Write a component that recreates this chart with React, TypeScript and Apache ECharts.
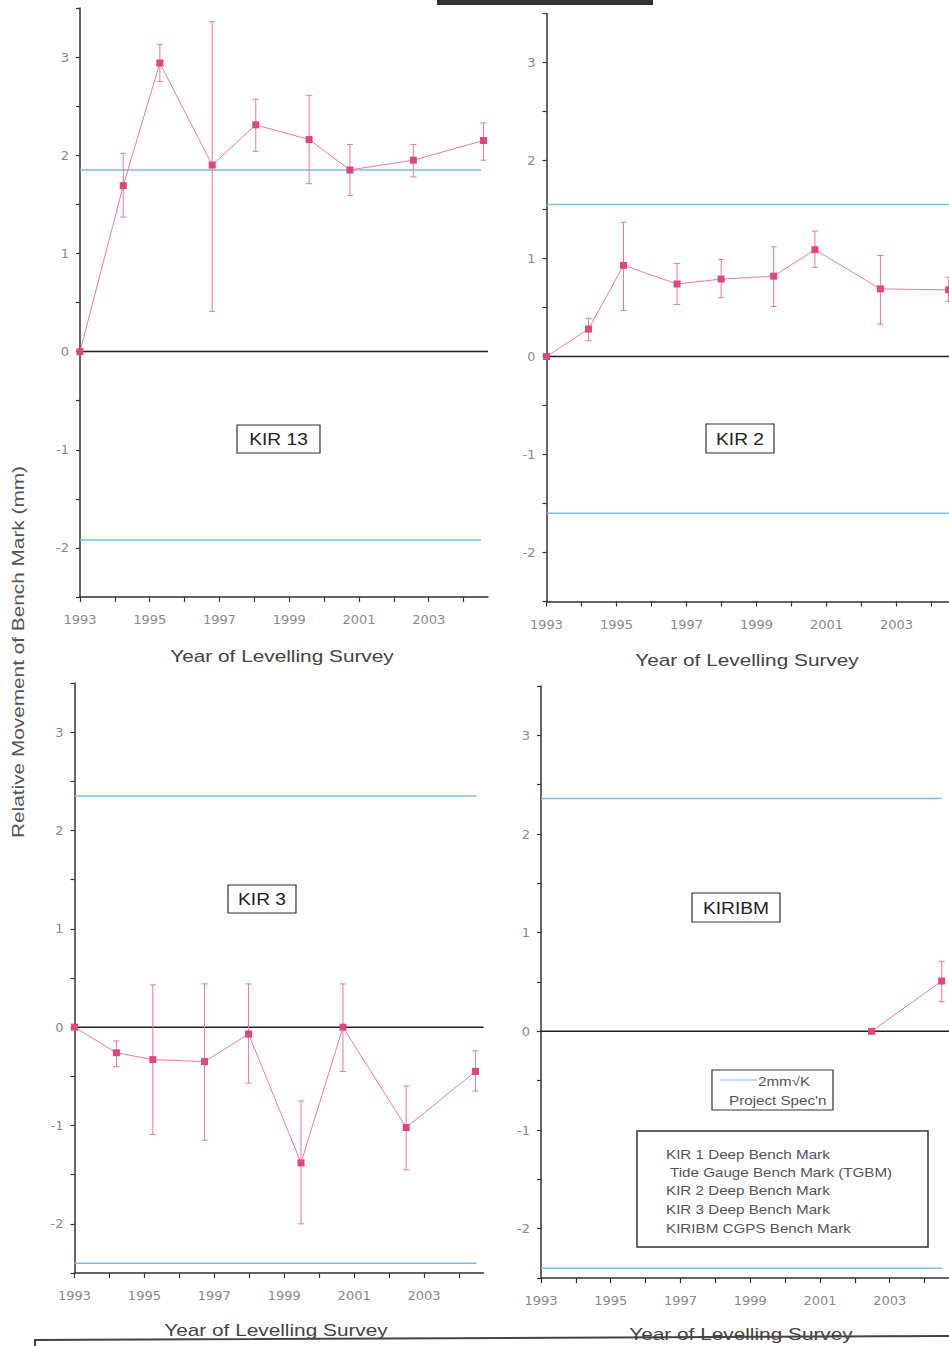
import React, { useEffect, useRef } from 'react';
import * as echarts from 'echarts';

const FONT = '"Liberation Sans", Arial, sans-serif';
const TICK_FONT = '"DejaVu Sans", Verdana, sans-serif';
const PINK_LINE = '#f07aa0';
const PINK_MARK = '#e0467f';
const PINK_ERR = '#f0749c';
const BLUE = '#7fbbe2';

const X_MIN = 1993;
const X_MAX = 2004.7;
const SPEC_END = 2004.5;

const panelNames = ['KIR 13', 'KIR 2', 'KIR 3', 'KIRIBM'];
const xAxisTitle = 'Year of Levelling Survey';
const yAxisTitle = 'Relative Movement of Bench Mark (mm)';

// KIR 13
const kir13Years = [1993, 1994.24, 1995.29, 1996.79, 1998.04, 1999.57, 2000.74, 2002.56, 2004.57];
const kir13Values = [0, 1.69, 2.94, 1.9, 2.31, 2.16, 1.85, 1.95, 2.15];
const kir13Upper = [null, 2.02, 3.13, 3.36, 2.57, 2.61, 2.11, 2.11, 2.33];
const kir13Lower = [null, 1.37, 2.75, 0.41, 2.04, 1.71, 1.59, 1.78, 1.95];
const kir13Spec = [1.85, -1.92];

// KIR 2
const kir2Years = [1993, 1994.2, 1995.2, 1996.73, 1997.99, 1999.49, 2000.67, 2002.54, 2004.49];
const kir2Values = [0, 0.28, 0.93, 0.74, 0.79, 0.82, 1.09, 0.69, 0.68];
const kir2Upper = [null, 0.39, 1.37, 0.95, 0.99, 1.12, 1.28, 1.03, 0.81];
const kir2Lower = [null, 0.16, 0.47, 0.53, 0.6, 0.51, 0.91, 0.33, 0.56];
const kir2Spec = [1.55, -1.6];

// KIR 3
const kir3Years = [1993, 1994.2, 1995.24, 1996.72, 1997.98, 1999.48, 2000.68, 2002.49, 2004.47];
const kir3Values = [0, -0.26, -0.33, -0.35, -0.07, -1.38, 0.0, -1.02, -0.45];
const kir3Upper = [null, -0.14, 0.43, 0.44, 0.44, -0.75, 0.44, -0.6, -0.24];
const kir3Lower = [null, -0.4, -1.09, -1.15, -0.57, -2.0, -0.45, -1.45, -0.65];
const kir3Spec = [2.35, -2.4];

// KIRIBM
const kiribmYears = [2002.48, 2004.49];
const kiribmValues = [0, 0.51];
const kiribmUpper = [null, 0.71];
const kiribmLower = [null, 0.3];
const kiribmSpec = [2.36, -2.4];

const legendSpecLines = ['2mm\u221AK', "Project Spec'n"];
const legendMarkLines = [
  'KIR 1 Deep Bench Mark',
  ' Tide Gauge Bench Mark (TGBM)',
  'KIR 2 Deep Bench Mark',
  'KIR 3 Deep Bench Mark',
  'KIRIBM CGPS Bench Mark',
];

const panelData = [
  { years: kir13Years, values: kir13Values, upper: kir13Upper, lower: kir13Lower, spec: kir13Spec },
  { years: kir2Years, values: kir2Values, upper: kir2Upper, lower: kir2Lower, spec: kir2Spec },
  { years: kir3Years, values: kir3Values, upper: kir3Upper, lower: kir3Lower, spec: kir3Spec },
  { years: kiribmYears, values: kiribmValues, upper: kiribmUpper, lower: kiribmLower, spec: kiribmSpec },
];

const panelLayout = [
  { grid: { left: 80, top: 8, width: 408, height: 589 }, title: [282, 656], box: { x: 237, y: 425, w: 83, h: 28 } },
  { grid: { left: 546.5, top: 13.5, width: 409.5, height: 588 }, title: [747, 660], box: { x: 706, y: 424, w: 68, h: 29 } },
  { grid: { left: 74.5, top: 683, width: 409, height: 590 }, title: [276, 1330], box: { x: 228, y: 885, w: 68, h: 28 } },
  { grid: { left: 541, top: 686, width: 408, height: 592 }, title: [741, 1334], box: { x: 692, y: 893, w: 88, h: 29 } },
];

function buildOption() {
  const grids: any[] = [];
  const xAxes: any[] = [];
  const yAxes: any[] = [];
  const series: any[] = [];
  const graphics: any[] = [];

  panelData.forEach((p, i) => {
    const L = panelLayout[i];
    grids.push({ ...L.grid, containLabel: false });
    xAxes.push({
      type: 'value',
      gridIndex: i,
      min: X_MIN,
      max: X_MAX,
      interval: 1,
      axisLine: { onZero: false, lineStyle: { color: '#333', width: 1.5 } },
      axisTick: { length: 5, lineStyle: { color: '#333', width: 1.2 } },
      axisLabel: {
        formatter: (v: number) => (Number.isInteger(v) && v % 2 === 1 ? String(v) : ''),
        color: '#8a8a8a',
        fontSize: 13,
        fontFamily: TICK_FONT,
        margin: 16,
        showMaxLabel: false,
      },
      splitLine: { show: false },
    });
    yAxes.push({
      type: 'value',
      gridIndex: i,
      min: -2.5,
      max: 3.5,
      interval: 0.5,
      axisLine: { show: true, onZero: false, lineStyle: { color: '#333', width: 1.5 } },
      axisTick: { show: true, length: 4, lineStyle: { color: '#333', width: 1.2 } },
      axisLabel: {
        formatter: (v: number) => (Number.isInteger(v) ? String(v) : ''),
        color: '#8a8a8a',
        fontSize: 13,
        fontFamily: TICK_FONT,
        margin: 11,
      },
      splitLine: { show: false },
    });

    // spec lines
    p.spec.forEach((s) => {
      series.push({
        type: 'line',
        xAxisIndex: i,
        yAxisIndex: i,
        data: [[X_MIN, s], [SPEC_END, s]],
        symbol: 'none',
        silent: true,
        lineStyle: { color: BLUE, width: 1.5 },
        z: 1,
      });
    });
    // zero line
    series.push({
      type: 'line',
      xAxisIndex: i,
      yAxisIndex: i,
      data: [[X_MIN, 0], [X_MAX, 0]],
      symbol: 'none',
      silent: true,
      lineStyle: { color: '#222', width: 1.5 },
      z: 2,
    });
    // error bars
    const errData = p.years
      .map((y, k) => (p.upper[k] == null ? null : [y, p.lower[k], p.upper[k]]))
      .filter((d) => d !== null);
    series.push({
      type: 'custom',
      xAxisIndex: i,
      yAxisIndex: i,
      data: errData,
      encode: { x: 0, y: [1, 2] },
      silent: true,
      z: 3,
      renderItem: (params: any, api: any) => {
        const x = api.value(0);
        const lo = api.value(1);
        const hi = api.value(2);
        const a = api.coord([x, hi]);
        const b = api.coord([x, lo]);
        const w = 3;
        const st = { stroke: PINK_ERR, lineWidth: 1 };
        return {
          type: 'group',
          children: [
            { type: 'line', shape: { x1: a[0], y1: a[1], x2: b[0], y2: b[1] }, style: st },
            { type: 'line', shape: { x1: a[0] - w, y1: a[1], x2: a[0] + w, y2: a[1] }, style: st },
            { type: 'line', shape: { x1: b[0] - w, y1: b[1], x2: b[0] + w, y2: b[1] }, style: st },
          ],
        };
      },
    });
    // data line
    series.push({
      type: 'line',
      xAxisIndex: i,
      yAxisIndex: i,
      data: p.years.map((y, k) => [y, p.values[k]]),
      symbol: 'rect',
      symbolSize: 7,
      itemStyle: { color: PINK_MARK },
      lineStyle: { color: PINK_LINE, width: 1 },
      z: 4,
    });

    // x axis title
    graphics.push({
      type: 'text',
      x: L.title[0],
      y: L.title[1],
      scaleX: 1.3,
      style: {
        text: xAxisTitle,
        align: 'center',
        verticalAlign: 'middle',
        fontSize: 16,
        fontFamily: FONT,
        fill: '#444',
      },
      z: 9,
    });

    // panel label box
    const bx = L.box;
    graphics.push({
      type: 'rect',
      shape: { x: bx.x, y: bx.y, width: bx.w, height: bx.h },
      style: { fill: '#fff', stroke: '#333', lineWidth: 1.2 },
      z: 10,
    });
    graphics.push({
      type: 'text',
      x: bx.x + bx.w / 2,
      y: bx.y + bx.h / 2 + 1,
      scaleX: 1.2,
      style: {
        text: panelNames[i],
        align: 'center',
        verticalAlign: 'middle',
        fontSize: 16,
        fontFamily: FONT,
        fill: '#222',
      },
      z: 11,
    });
  });

  // top black bar
  graphics.push({
    type: 'rect',
    shape: { x: 437, y: 0, width: 216, height: 5 },
    style: { fill: '#333' },
  });
  // y axis title
  graphics.push({
    type: 'text',
    x: 18,
    y: 652,
    rotation: Math.PI / 2,
    scaleX: 1.3,
    style: {
      text: yAxisTitle,
      align: 'center',
      verticalAlign: 'middle',
      fontSize: 16,
      fontFamily: FONT,
      fill: '#555',
    },
  });
  // legend box A
  graphics.push({
    type: 'rect',
    shape: { x: 712, y: 1070, width: 121, height: 40 },
    style: { fill: '#fff', stroke: '#333', lineWidth: 1.2 },
    z: 10,
  });
  graphics.push({
    type: 'line',
    shape: { x1: 720, y1: 1080, x2: 757, y2: 1080 },
    style: { stroke: BLUE, lineWidth: 1.2 },
    z: 11,
  });
  graphics.push({
    type: 'text',
    x: 758,
    y: 1081,
    scaleX: 1.17,
    style: { text: legendSpecLines[0], align: 'left', verticalAlign: 'middle', fontSize: 13, fontFamily: FONT, fill: '#555' },
    z: 11,
  });
  graphics.push({
    type: 'text',
    x: 729,
    y: 1100,
    scaleX: 1.17,
    style: { text: legendSpecLines[1], align: 'left', verticalAlign: 'middle', fontSize: 13, fontFamily: FONT, fill: '#555' },
    z: 11,
  });
  // legend box B
  graphics.push({
    type: 'rect',
    shape: { x: 637, y: 1131, width: 291, height: 116 },
    style: { fill: '#fff', stroke: '#333', lineWidth: 1.5 },
    z: 10,
  });
  const legendYs = [1154, 1172, 1190, 1209, 1228];
  legendMarkLines.forEach((t, k) => {
    graphics.push({
      type: 'text',
      x: 666,
      y: legendYs[k],
      scaleX: 1.17,
      style: { text: t, align: 'left', verticalAlign: 'middle', fontSize: 13, fontFamily: FONT, fill: '#555' },
      z: 11,
    });
  });
  // bottom frame line
  graphics.push({
    type: 'polyline',
    shape: { points: [[35, 1346], [35, 1340], [949, 1336]] },
    style: { stroke: '#444', lineWidth: 2, fill: null },
    z: 12,
  });

  return {
    animation: false,
    backgroundColor: '#fff',
    textStyle: { fontFamily: FONT },
    grid: grids,
    xAxis: xAxes,
    yAxis: yAxes,
    series,
    graphic: graphics,
  };
}

export default function App() {
  const ref = useRef<HTMLDivElement>(null);
  useEffect(() => {
    if (!ref.current) return;
    const chart = echarts.init(ref.current, undefined, { renderer: 'svg' });
    chart.setOption(buildOption() as any);
    return () => chart.dispose();
  }, []);
  return (
    <div
      style={{
        position: 'fixed',
        left: 0,
        top: 0,
        width: 949,
        height: 1346,
        overflow: 'hidden',
        background: '#fff',
      }}
    >
      <div ref={ref} style={{ width: 980, height: 1346 }} />
    </div>
  );
}
